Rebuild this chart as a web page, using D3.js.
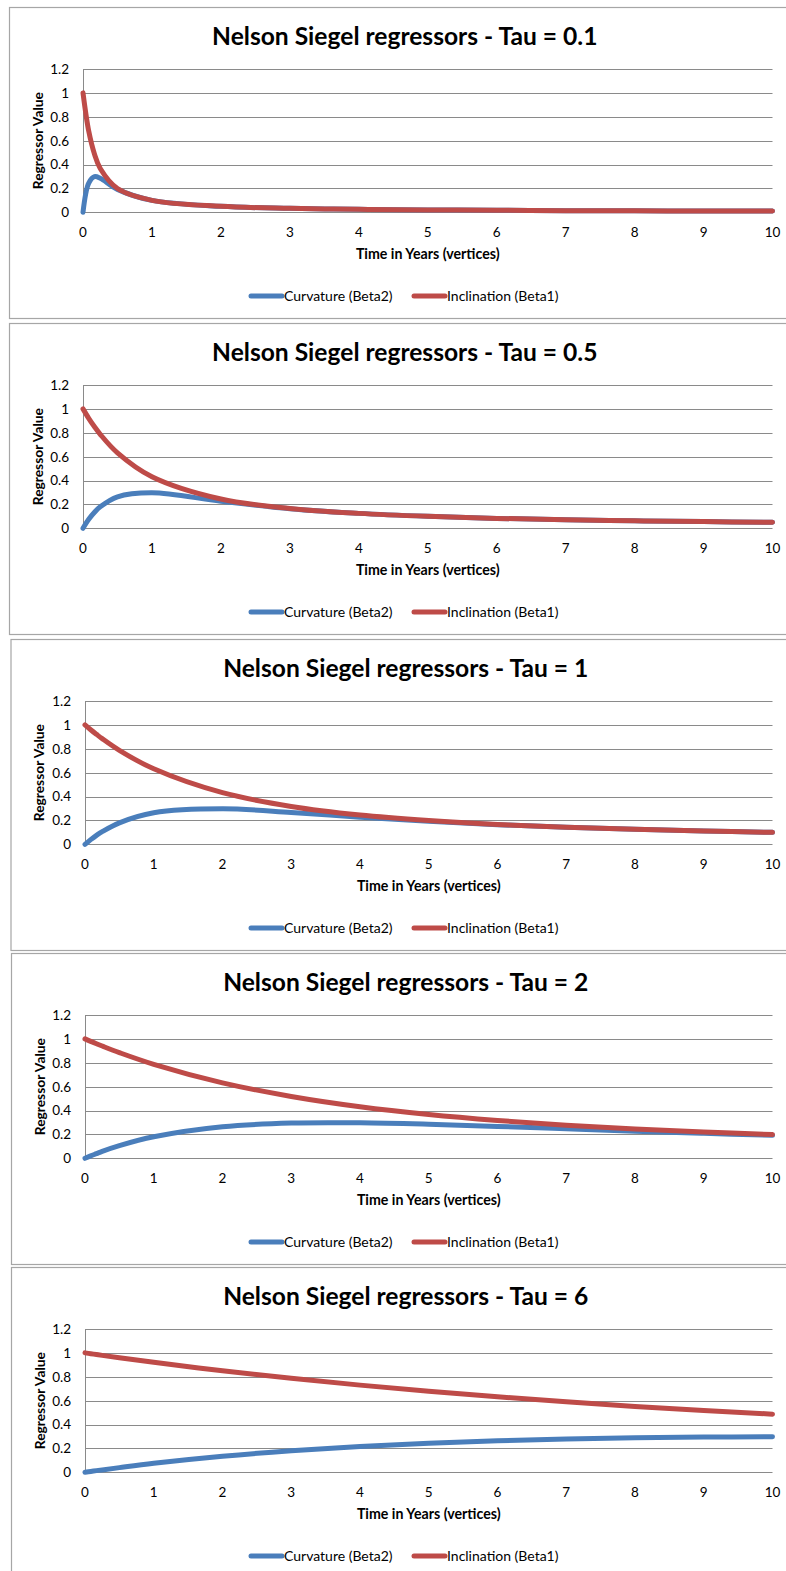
<!DOCTYPE html>
<html>
<head>
<meta charset="utf-8">
<script src="https://cdn.jsdelivr.net/npm/d3@7/dist/d3.min.js"></script>
<style>
  html, body { margin: 0; padding: 0; background: #fff; }
  svg { display: block; }
  text { font-family: Lato, "Open Sans", "Noto Sans", sans-serif; fill: #000; }
</style>
</head>
<body>
<svg id="chart" width="786" height="1571"></svg>
<script>
// Maturity vertices (years) shared by every panel
const vertices = [0, 0.083, 0.167, 0.25, 0.5, 1, 2, 3, 4, 5, 6, 7, 8, 9, 10];

// Decay parameter of each panel
const taus = ["0.1", "0.5", "1", "2", "6"];

// Inclination (Beta1) loadings per panel, one value per vertex
const inclination01 = [1, 0.680, 0.486, 0.367, 0.199, 0.100, 0.050, 0.033, 0.025, 0.020, 0.017, 0.014, 0.0125, 0.011, 0.010];
const inclination05 = [1, 0.921, 0.850, 0.787, 0.632, 0.432, 0.245, 0.166, 0.125, 0.100, 0.083, 0.071, 0.0625, 0.056, 0.050];
const inclination1  = [1, 0.959, 0.921, 0.885, 0.787, 0.632, 0.432, 0.317, 0.245, 0.199, 0.166, 0.143, 0.125, 0.111, 0.100];
const inclination2  = [1, 0.979, 0.959, 0.940, 0.885, 0.787, 0.632, 0.518, 0.432, 0.367, 0.317, 0.277, 0.245, 0.220, 0.199];
const inclination6  = [1, 0.993, 0.986, 0.979, 0.959, 0.921, 0.850, 0.787, 0.730, 0.678, 0.632, 0.590, 0.552, 0.518, 0.487];

// Curvature (Beta2) loadings per panel, one value per vertex
const curvature01 = [0, 0.244, 0.298, 0.285, 0.192, 0.100, 0.050, 0.033, 0.025, 0.020, 0.017, 0.014, 0.0125, 0.011, 0.010];
const curvature05 = [0, 0.075, 0.134, 0.180, 0.264, 0.297, 0.227, 0.164, 0.125, 0.100, 0.083, 0.071, 0.0625, 0.056, 0.050];
const curvature1  = [0, 0.039, 0.075, 0.106, 0.180, 0.264, 0.297, 0.267, 0.227, 0.192, 0.164, 0.142, 0.125, 0.111, 0.100];
const curvature2  = [0, 0.020, 0.039, 0.058, 0.106, 0.180, 0.264, 0.295, 0.297, 0.285, 0.267, 0.247, 0.227, 0.209, 0.192];
const curvature6  = [0, 0.007, 0.014, 0.020, 0.039, 0.075, 0.134, 0.180, 0.216, 0.244, 0.264, 0.279, 0.289, 0.295, 0.298];

const inclinations = [inclination01, inclination05, inclination1, inclination2, inclination6];
const curvatures = [curvature01, curvature05, curvature1, curvature2, curvature6];

// Axis ticks
const xTicks = [0, 1, 2, 3, 4, 5, 6, 7, 8, 9, 10];
const yTicks = [0, 0.2, 0.4, 0.6, 0.8, 1, 1.2];

const seriesNames = ["Curvature (Beta2)", "Inclination (Beta1)"];
const seriesColors = ["#4a7ebb", "#be4b48"];

// Panel frames (top edge, left edge, plot left edge)
const panelTops = [7, 323, 639, 953, 1267];
const panelLefts = [9, 9, 10.5, 11, 11];
const plotLefts = [83, 83, 85, 85, 85];
const plotRight = 772.5;
const panelH = 311;

const svg = d3.select("#chart");

taus.forEach((tau, i) => {
  const top = panelTops[i];
  const g = svg.append("g");

  g.append("rect")
    .attr("x", panelLefts[i] + 0.5)
    .attr("y", top + 0.5)
    .attr("width", 800)
    .attr("height", panelH)
    .attr("fill", "#fff")
    .attr("stroke", "#a6a6a6")
    .attr("stroke-width", 1.2);

  const x = d3.scaleLinear().domain([0, 10]).range([plotLefts[i], plotRight]);
  const y = d3.scaleLinear().domain([0, 1.2]).range([top + 205.3, top + 62]);

  // Title
  g.append("text")
    .attr("x", (plotLefts[i] + plotRight) / 2 - 23)
    .attr("y", top + 29)
    .attr("dy", "0.35em")
    .attr("text-anchor", "middle")
    .attr("font-size", 24.6)
    .attr("font-weight", 700)
    .text(`Nelson Siegel regressors - Tau = ${tau}`);

  // Horizontal gridlines
  g.append("g").selectAll("line")
    .data(yTicks)
    .join("line")
    .attr("x1", x(0)).attr("x2", x(10))
    .attr("y1", d => Math.round(y(d)) + 0.5)
    .attr("y2", d => Math.round(y(d)) + 0.5)
    .attr("stroke", "#8a8a8a")
    .attr("stroke-width", 1);

  // Vertical axis line
  g.append("line")
    .attr("x1", Math.round(x(0)) + 0.5).attr("x2", Math.round(x(0)) + 0.5)
    .attr("y1", y(1.2)).attr("y2", y(0))
    .attr("stroke", "#8a8a8a");

  // Y tick labels
  g.append("g").selectAll("text")
    .data(yTicks)
    .join("text")
    .attr("x", x(0) - 14)
    .attr("y", d => y(d))
    .attr("dy", "0.36em")
    .attr("text-anchor", "end")
    .attr("font-size", 13.5)
    .text(d => d3.format("")(d));

  // X tick labels
  g.append("g").selectAll("text")
    .data(xTicks)
    .join("text")
    .attr("x", d => x(d))
    .attr("y", top + 225)
    .attr("dy", "0.36em")
    .attr("text-anchor", "middle")
    .attr("font-size", 13.5)
    .text(d => d);

  // Axis titles
  g.append("text")
    .attr("x", (plotLefts[i] + plotRight) / 2)
    .attr("y", top + 247)
    .attr("dy", "0.35em")
    .attr("text-anchor", "middle")
    .attr("font-size", 14.2)
    .attr("font-weight", 700)
    .text("Time in Years (vertices)");

  g.append("text")
    .attr("transform", `translate(${panelLefts[i] + 29},${(y(0) + y(1.2)) / 2}) rotate(-90)`)
    .attr("dy", "0.35em")
    .attr("text-anchor", "middle")
    .attr("font-size", 13.8)
    .attr("font-weight", 700)
    .text("Regressor Value");

  // Series lines
  const line = d3.line()
    .x((d, k) => x(vertices[k]))
    .y(d => y(d))
    .curve(d3.curveCatmullRom.alpha(0.5));

  [curvatures[i], inclinations[i]].forEach((vals, s) => {
    g.append("path")
      .datum(vals)
      .attr("d", line)
      .attr("fill", "none")
      .attr("stroke", seriesColors[s])
      .attr("stroke-width", 5)
      .attr("stroke-linecap", "round")
      .attr("stroke-linejoin", "round");
  });

  // Legend
  const legendStarts = [251, 414];
  const ly = top + 289;
  seriesNames.forEach((name, s) => {
    g.append("line")
      .attr("x1", legendStarts[s]).attr("x2", legendStarts[s] + 31)
      .attr("y1", ly).attr("y2", ly)
      .attr("stroke", seriesColors[s])
      .attr("stroke-width", 5)
      .attr("stroke-linecap", "round");
    g.append("text")
      .attr("x", legendStarts[s] + 33)
      .attr("y", ly)
      .attr("dy", "0.35em")
      .attr("font-size", 14)
      .text(name);
  });
});
</script>
</body>
</html>
